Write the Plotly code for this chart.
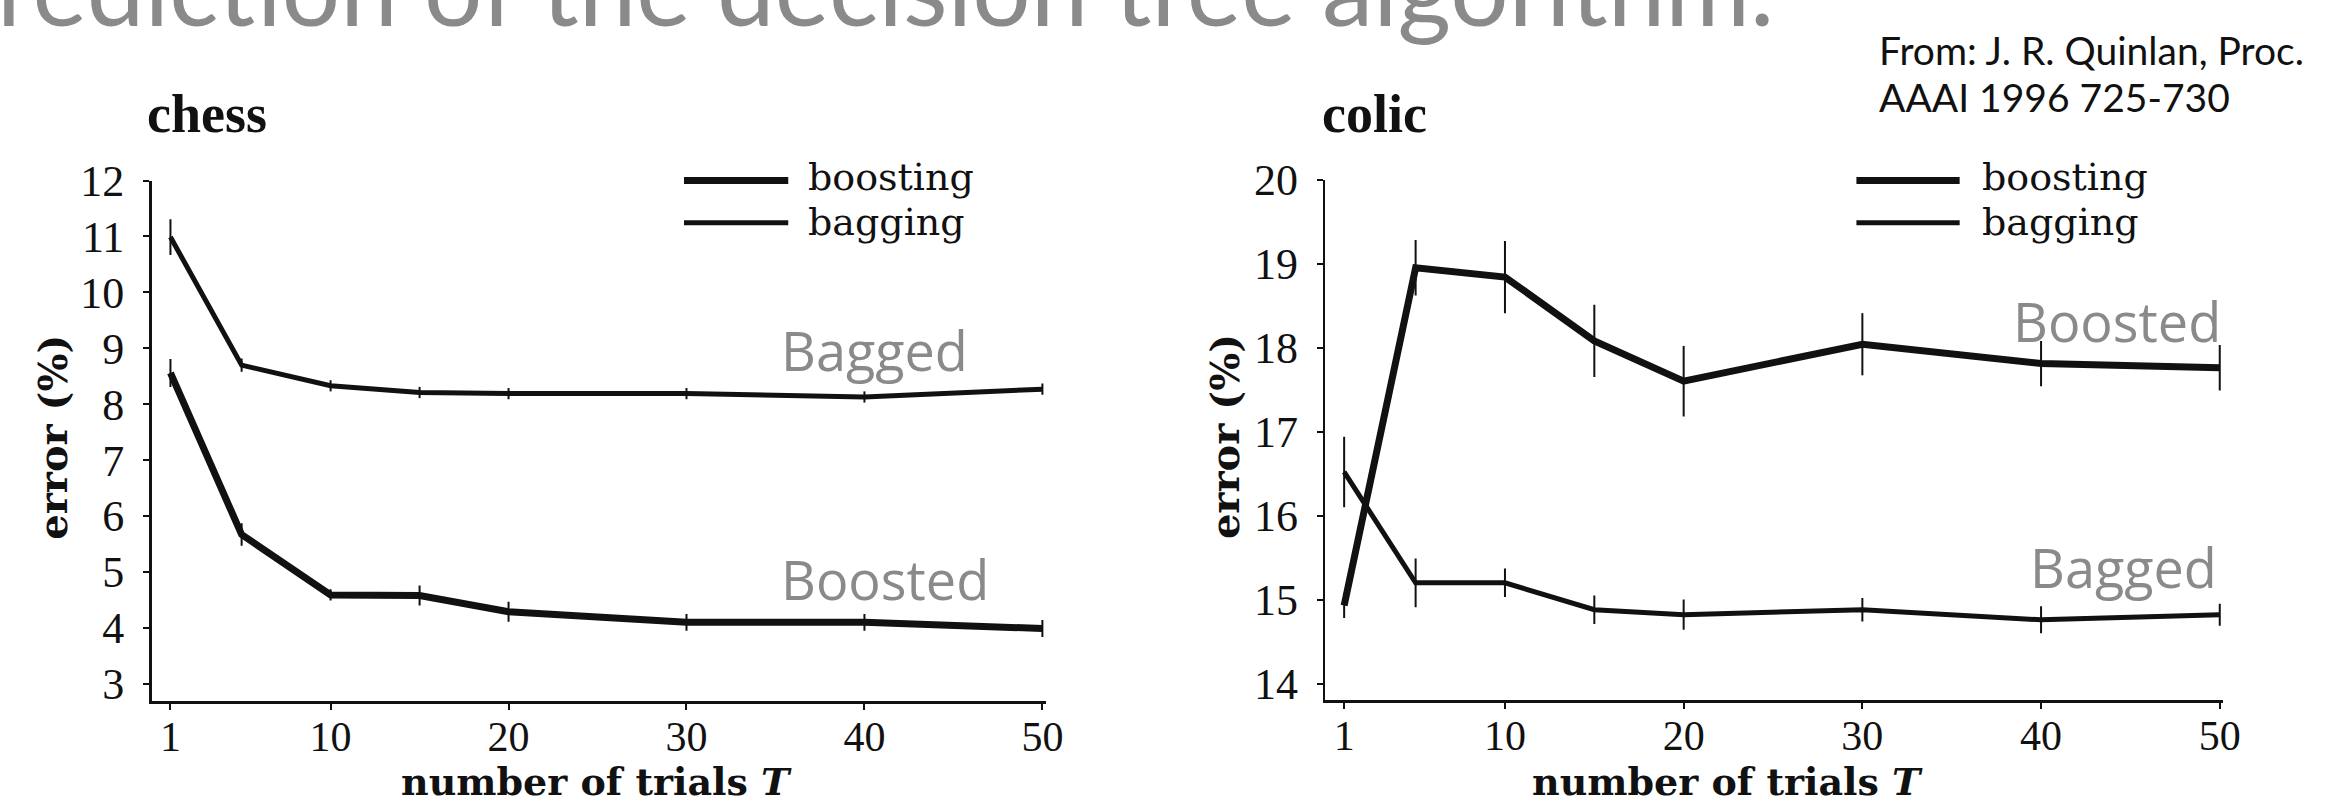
import plotly.graph_objects as go

W, H = 2340, 811

# ---------------- data ----------------
trials = [1, 5, 10, 15, 20, 30, 40, 50]

chess_boosting = [8.56, 5.67, 4.59, 4.58, 4.29, 4.10, 4.10, 3.99]
chess_boosting_err = [0.25, 0.20, 0.10, 0.18, 0.18, 0.15, 0.15, 0.15]
chess_bagging = [10.99, 8.70, 8.33, 8.21, 8.19, 8.19, 8.13, 8.27]
chess_bagging_err = [0.32, 0.12, 0.10, 0.10, 0.10, 0.10, 0.10, 0.10]

colic_boosting = [14.93, 18.95, 18.84, 18.08, 17.60, 18.04, 17.81, 17.76]
colic_boosting_err = [0.15, 0.33, 0.43, 0.43, 0.42, 0.37, 0.27, 0.27]
colic_bagging = [16.52, 15.20, 15.20, 14.88, 14.82, 14.88, 14.76, 14.82]
colic_bagging_err = [0.42, 0.29, 0.17, 0.17, 0.18, 0.14, 0.16, 0.13]

x_ticks = [1, 10, 20, 30, 40, 50]
chess_y_ticks = [3, 4, 5, 6, 7, 8, 9, 10, 11, 12]
colic_y_ticks = [14, 15, 16, 17, 18, 19, 20]

INK = "#111111"
GRAY = "#8a8a8a"
SERIF = "Liberation Serif"
WIDE_SERIF = "DejaVu Serif"


def px(x):
    return x / W


def py(y):
    return 1 - y / H


fig = go.Figure()


def add_series(y, err, width, xa, ya):
    fig.add_trace(go.Scatter(
        x=trials, y=y, mode="lines",
        line=dict(color=INK, width=width),
        error_y=dict(type="data", array=err, visible=True,
                     color=INK, thickness=2, width=0),
        xaxis=xa, yaxis=ya, showlegend=False, hoverinfo="skip"))


add_series(chess_bagging, chess_bagging_err, 5, "x", "y")
add_series(chess_boosting, chess_boosting_err, 7, "x", "y")
add_series(colic_bagging, colic_bagging_err, 5, "x2", "y2")
add_series(colic_boosting, colic_boosting_err, 7, "x2", "y2")

axis_common = dict(
    showline=True, linecolor=INK, linewidth=2.5, mirror=False,
    ticks="outside", ticklen=6, tickwidth=2, tickcolor=INK,
    showgrid=False, zeroline=False,
)
x_tickfont = dict(family=SERIF, size=42, color=INK)
y_tickfont = dict(family=SERIF, size=44, color=INK)

fig.update_layout(
    width=W, height=H,
    margin=dict(l=0, r=0, t=0, b=0),
    paper_bgcolor="white", plot_bgcolor="white",
    hovermode=False,
    xaxis=dict(domain=[px(152.7), px(1053.6)], range=[-0.06, 50.2],
               tickvals=x_ticks, anchor="y", ticklabelstandoff=-9,
               tickfont=x_tickfont, **axis_common),
    yaxis=dict(domain=[py(705), py(163)], range=[2.69, 12],
               tickvals=chess_y_ticks, anchor="x", ticklabelstandoff=10,
               tickfont=y_tickfont, **axis_common),
    xaxis2=dict(domain=[px(1334.9), px(2239.6)], range=[-0.06, 50.2],
                tickvals=x_ticks, anchor="y2", ticklabelstandoff=-9,
                tickfont=x_tickfont, **axis_common),
    yaxis2=dict(domain=[py(704.2), py(162)], range=[13.8, 20],
                tickvals=colic_y_ticks, anchor="x2", ticklabelstandoff=10,
                tickfont=y_tickfont, **axis_common),
)

ann = []


def text(t, x, y, size, family, color=INK, xanchor="left", yanchor="middle",
         angle=0, bold=False):
    if bold:
        t = "<b>" + t + "</b>"
    ann.append(dict(text=t, x=px(x), y=py(y), xref="paper", yref="paper",
                    xanchor=xanchor, yanchor=yanchor, showarrow=False,
                    textangle=angle, borderpad=0,
                    font=dict(family=family, size=size, color=color)))


# slide heading (clipped at the top of the picture)
text("rediction of the decision tree algorithm.", -4, -40, 103, "Lato", GRAY)
# source note
text("From: J. R. Quinlan, Proc.", 1892, 27, 39, "Lato", "#111111")
text("AAAI 1996 725-730", 1892, 76, 39, "Lato", "#111111")

# panel titles
text("chess", 147, 94, 54, SERIF, bold=True)
text("colic", 1331, 94, 54, SERIF, bold=True)

# axis titles
text("number of trials <i>T</i>", 601, 813, 38, WIDE_SERIF, xanchor="center",
     yanchor="bottom", bold=True)
text("number of trials <i>T</i>", 1740, 813, 38, WIDE_SERIF, xanchor="center",
     yanchor="bottom", bold=True)
text("error (%)", 52, 430, 40, WIDE_SERIF, xanchor="center", angle=-90, bold=True)
text("error (%)", 1233, 430, 40, WIDE_SERIF, xanchor="center", angle=-90, bold=True)

# legends
shapes = []
for x0, x1, tx in [(689, 794, 813), (1870, 1974, 1995)]:
    shapes.append(dict(type="line", xref="paper", yref="paper",
                       x0=px(x0), x1=px(x1), y0=py(163), y1=py(163),
                       line=dict(color=INK, width=7)))
    shapes.append(dict(type="line", xref="paper", yref="paper",
                       x0=px(x0), x1=px(x1), y0=py(207), y1=py(207),
                       line=dict(color=INK, width=5)))
    text("boosting", tx, 159, 38, WIDE_SERIF)
    text("bagging", tx, 206, 38, WIDE_SERIF)

# gray annotations
text("Bagged", 786, 339, 54, "Open Sans", GRAY)
text("Boosted", 786, 578, 54, "Open Sans", GRAY)
text("Boosted", 2238, 309, 54, "Open Sans", GRAY, xanchor="right")
text("Bagged", 2234, 565, 54, "Open Sans", GRAY, xanchor="right")

fig.update_layout(annotations=ann, shapes=shapes)

fig.write_html("out.html",
               config={"displayModeBar": False, "staticPlot": True},
               post_script="document.body.style.margin='0';document.body.style.overflow='hidden';")
